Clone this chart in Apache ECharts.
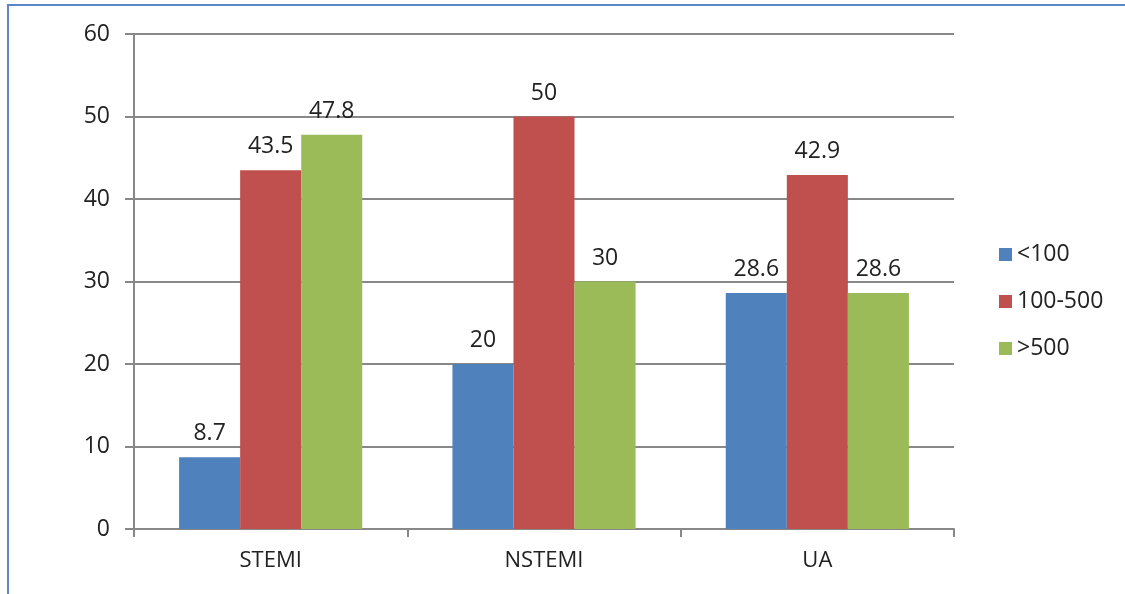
<!DOCTYPE html>
<html>
<head>
<meta charset="utf-8">
<script src="https://cdn.jsdelivr.net/npm/echarts@6/dist/echarts.min.js"></script>
<style>
  html, body { margin: 0; padding: 0; background: #fff; }
  #frame { position: absolute; left: 7px; top: 4px; width: 1130px; height: 590px;
           border-left: 2px solid #5b86c8; border-top: 2px solid #5b86c8; box-sizing: border-box; }
  #chart { position: absolute; left: 0; top: 0; width: 1125px; height: 594px; }
</style>
</head>
<body>
<div id="frame"></div>
<div id="chart"></div>
<script>
const categories = ['STEMI', 'NSTEMI', 'UA'];
const seriesNames = ['<100', '100-500', '>500'];
const low = [8.7, 20, 28.6];
const mid = [43.5, 50, 42.9];
const high = [47.8, 30, 28.6];
const colors = ['#4f81bd', '#c0504d', '#9bbb59'];

const font = '"Open Sans", "DejaVu Sans", sans-serif';
const chart = echarts.init(document.getElementById('chart'));

function bar(name, data, color) {
  return {
    name, type: 'bar', data,
    barGap: '0%', barCategoryGap: '33%',
    itemStyle: { color },
    label: { show: true, position: 'top', distance: 12, color: '#222', fontSize: 23, fontFamily: font },
    emphasis: { disabled: true }
  };
}

chart.setOption({
  animation: false,
  grid: { left: 134, right: 171, top: 34, bottom: 65, containLabel: false },
  legend: {
    orient: 'vertical', left: 994, top: 238, itemGap: 24,
    itemWidth: 13, itemHeight: 13, icon: 'rect',
    textStyle: { fontSize: 23, color: '#222', fontFamily: font },
    data: seriesNames
  },
  xAxis: {
    type: 'category', data: categories,
    axisLine: { lineStyle: { color: '#888', width: 2 } },
    axisTick: { show: true, length: 8, lineStyle: { color: '#888', width: 2 } },
    axisLabel: { fontSize: 22, color: '#222', margin: 21, fontFamily: font }
  },
  yAxis: {
    type: 'value', min: 0, max: 60, interval: 10,
    axisLine: { show: true, lineStyle: { color: '#888', width: 2 } },
    axisTick: { show: true, length: 9, lineStyle: { color: '#888', width: 2 } },
    splitLine: { lineStyle: { color: '#888', width: 2 } },
    axisLabel: { fontSize: 23, color: '#222', margin: 24, fontFamily: font }
  },
  series: [
    bar(seriesNames[0], low, colors[0]),
    bar(seriesNames[1], mid, colors[1]),
    bar(seriesNames[2], high, colors[2])
  ]
});
</script>
</body>
</html>
